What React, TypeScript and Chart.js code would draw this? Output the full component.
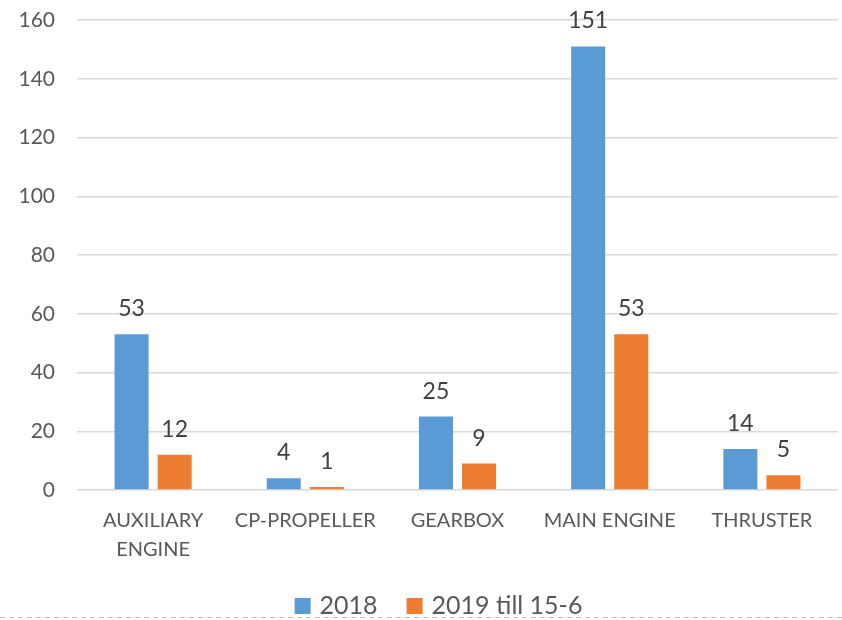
import React, { useEffect, useRef } from "react";
import { Chart, registerables } from "chart.js";

Chart.register(...registerables);

const categories: (string | string[])[] = [
  ["AUXILIARY", "ENGINE"],
  "CP-PROPELLER",
  "GEARBOX",
  "MAIN ENGINE",
  "THRUSTER",
];
const series2018 = [53, 4, 25, 151, 14];
const series2019 = [12, 1, 9, 53, 5];
const seriesNames = ["2018", "2019 till 15-6"];
const seriesColors = ["#5B9BD5", "#ED7D31"];

const FONT = "Lato, 'Open Sans', sans-serif";

const dataLabelPlugin = {
  id: "dataLabels",
  afterDatasetsDraw(chart: any) {
    const ctx = chart.ctx;
    ctx.save();
    ctx.font = `23px ${FONT}`;
    ctx.fillStyle = "#404040";
    ctx.textAlign = "center";
    ctx.textBaseline = "alphabetic";
    chart.data.datasets.forEach((ds: any, i: number) => {
      const meta = chart.getDatasetMeta(i);
      meta.data.forEach((el: any, j: number) => {
        ctx.fillText(String(ds.data[j]), el.x, el.y - 18);
      });
    });
    ctx.restore();
  },
};

const customLegendPlugin = {
  id: "customLegend",
  afterDraw(chart: any) {
    const ctx = chart.ctx;
    ctx.save();
    ctx.font = `25px ${FONT}`;
    ctx.textBaseline = "alphabetic";
    ctx.textAlign = "left";
    const box = 16;
    const boxGap = 9;
    const itemGap = 29;
    const widths = chart.data.datasets.map((ds: any) => ctx.measureText(ds.label).width);
    let total = 0;
    widths.forEach((w: number, i: number) => {
      total += box + boxGap + w + (i < widths.length - 1 ? itemGap : 0);
    });
    const centerX = (chart.chartArea.left + chart.chartArea.right) / 2 - 19;
    let x = centerX - total / 2;
    const baseline = 614;
    chart.data.datasets.forEach((ds: any, i: number) => {
      ctx.fillStyle = ds.backgroundColor;
      ctx.fillRect(x, 598, box, box);
      x += box + boxGap;
      ctx.fillStyle = "#595959";
      ctx.fillText(ds.label, x, baseline);
      x += widths[i] + itemGap;
    });
    ctx.restore();
  },
};

export default function App() {
  const ref = useRef<HTMLCanvasElement>(null);
  useEffect(() => {
    if (!ref.current) return;
    const chart = new Chart(ref.current, {
      type: "bar",
      data: {
        labels: categories,
        datasets: [
          {
            label: seriesNames[0],
            data: series2018,
            backgroundColor: seriesColors[0],
            categoryPercentage: 0.566,
            barPercentage: 0.79,
          },
          {
            label: seriesNames[1],
            data: series2019,
            backgroundColor: seriesColors[1],
            categoryPercentage: 0.566,
            barPercentage: 0.79,
          },
        ],
      },
      options: {
        responsive: false,
        animation: false,
        layout: { padding: { left: 0, right: 4, top: 20, bottom: 44 } },
        scales: {
          x: {
            grid: { display: false },
            border: { display: false },
            ticks: {
              color: "#595959",
              font: { family: FONT, size: 20, lineHeight: 1.45 },
              padding: 8,
              maxRotation: 0,
              autoSkip: false,
            },
          },
          y: {
            min: 0,
            max: 160,
            border: { display: false },
            grid: { color: "#D9D9D9", lineWidth: 1.5, drawTicks: false },
            afterFit(scale: any) {
              scale.width = 77;
              scale.paddingTop = 0;
              scale.paddingBottom = 0;
            },
            ticks: {
              stepSize: 20,
              color: "#595959",
              font: { family: FONT, size: 21 },
              padding: 22,
            },
          },
        },
        plugins: {
          legend: { display: false },
          tooltip: { enabled: false },
        },
      },
      plugins: [dataLabelPlugin, customLegendPlugin],
    });
    return () => chart.destroy();
  }, []);
  return (
    <div style={{ position: "absolute", left: 0, top: 0, width: 842, height: 620, background: "#fff" }}>
      <canvas ref={ref} width={842} height={616} style={{ display: "block" }} />
      <div
        style={{
          position: "absolute",
          left: 0,
          top: 617,
          width: 842,
          height: 1,
          background:
            "repeating-linear-gradient(to right, #BFBFBF 0px, #BFBFBF 5px, transparent 5px, transparent 9px)",
        }}
      />
    </div>
  );
}
